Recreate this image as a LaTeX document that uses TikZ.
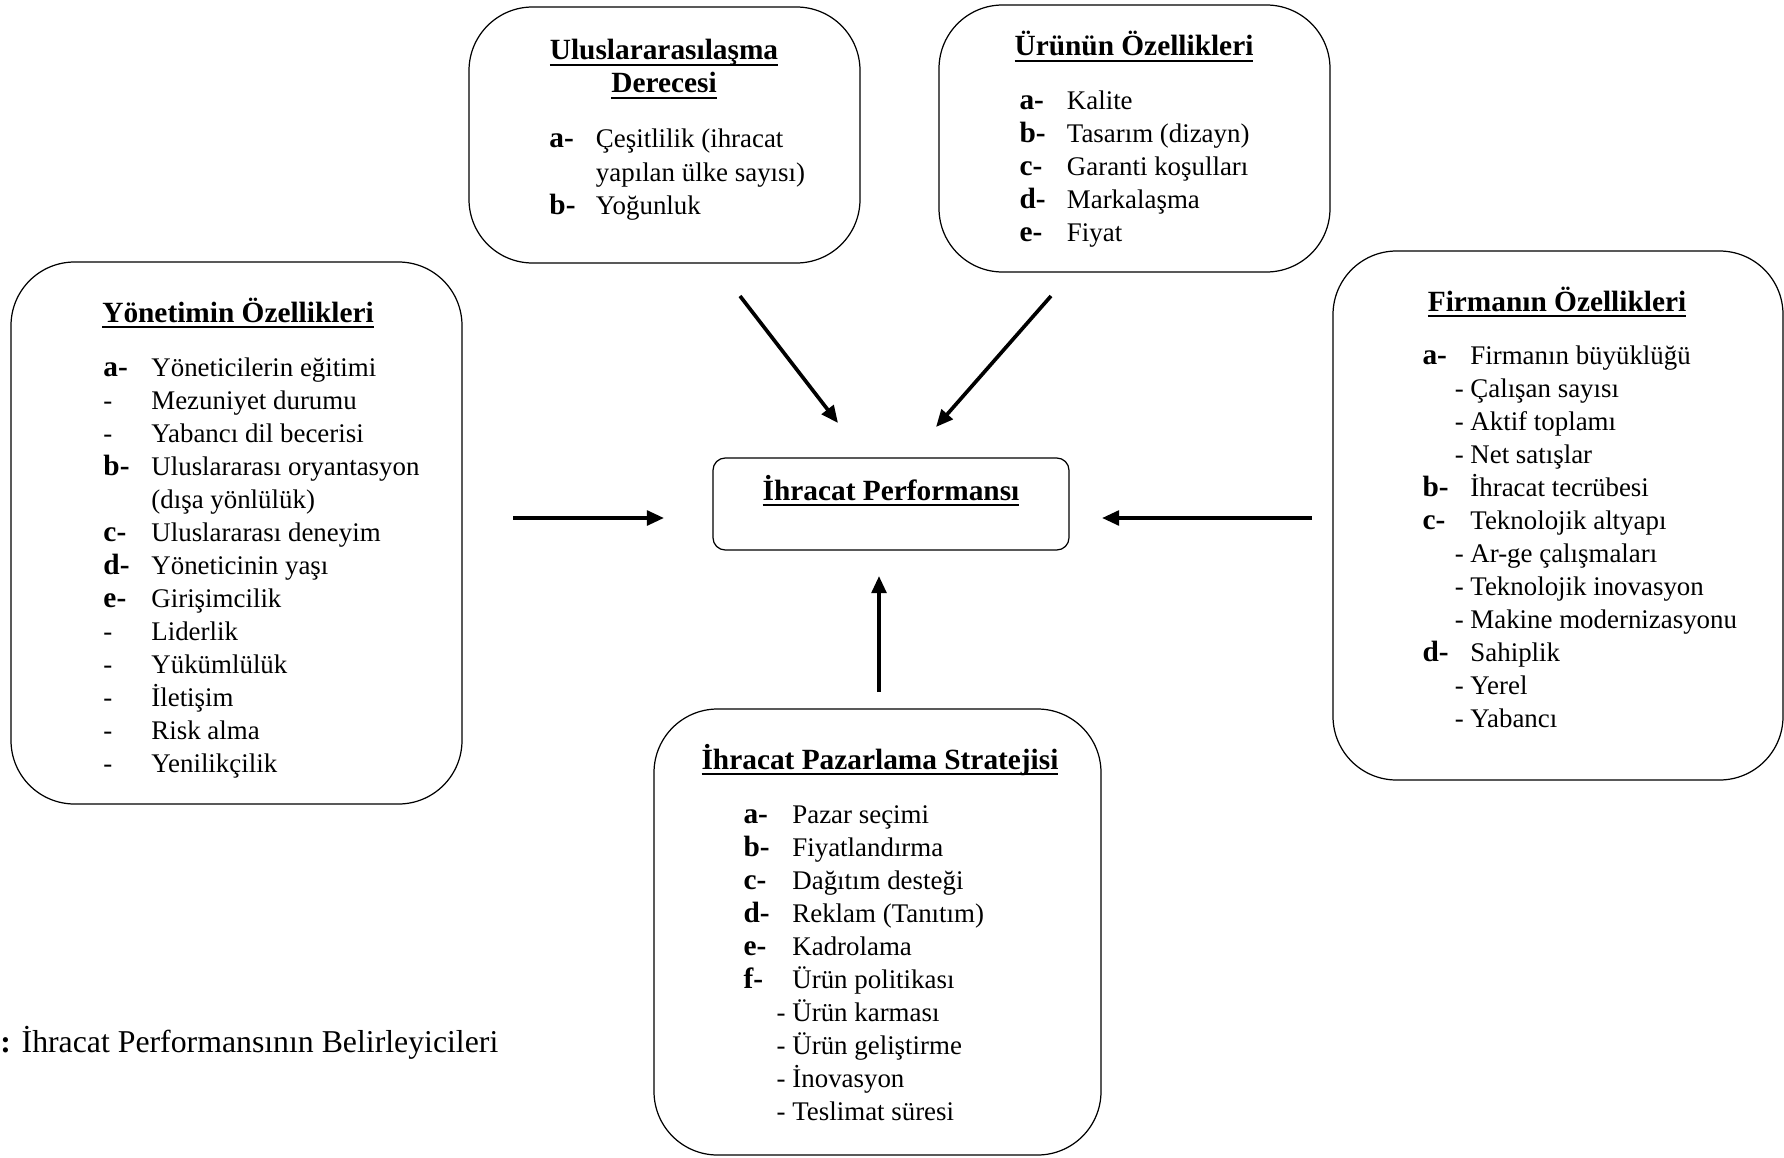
\documentclass[tikz,border=0pt]{standalone}
\usepackage{fontspec}
\setmainfont{Liberation Serif}
\usetikzlibrary{arrows.meta,fit,positioning}
\newcommand{\isaret}[1]{{\fontsize{12}{13.5}\selectfont\bfseries #1-}}
\newcommand{\alt}{\llap{-\ }}
\newsavebox{\cizgikutu}
\newcommand{\cizgi}[1]{\sbox{\cizgikutu}{#1}\rlap{\rule[-2.4pt]{\wd\cizgikutu}{0.8pt}}\usebox{\cizgikutu}}

\begin{document}
\begin{tikzpicture}[x=0.409pt, y=-0.409pt,
        kutu/.style={draw, line width=0.5pt, rounded corners=26pt, inner sep=0pt},
        merkez/.style={draw, line width=0.5pt, rounded corners=5pt, inner sep=0pt},
        baslik/.style={font=\fontsize{12}{13.5}\selectfont\bfseries, inner sep=0pt, anchor=base},
        liste/.style={font=\fontsize{11}{13.5}\selectfont, inner sep=0pt, anchor=base west},
        ok/.style={line width=1.5pt, -{Triangle[length=7pt, width=6pt]}}]
        \useasboundingbox (0,0) rectangle (1784,1157);

        \node[kutu, fit={(469,7) (860,263)}] (ulus) {};
        \node[baslik] (ulusB1) at (664,60) {\cizgi{Uluslararasılaşma}};
        \node[baslik] (ulusB2) at (664,93) {\cizgi{Derecesi}};
        \node[liste] (ulusL) at (549,148) {\begin{tabular}[t]{@{}p{19pt}@{}l@{}}
            \isaret{a} & Çeşitlilik (ihracat\\
                       & yapılan ülke sayısı)\\
            \isaret{b} & Yoğunluk
        \end{tabular}};

        \node[kutu, fit={(939,5) (1330,272)}] (urun) {};
        \node[baslik] (urunB) at (1134,56) {\cizgi{Ürünün Özellikleri}};
        \node[liste] (urunL) at (1019,109) {\begin{tabular}[t]{@{}p{19.4pt}@{}l@{}}
            \isaret{a} & Kalite\\
            \isaret{b} & Tasarım (dizayn)\\
            \isaret{c} & Garanti koşulları\\
            \isaret{d} & Markalaşma\\
            \isaret{e} & Fiyat
        \end{tabular}};

        \node[kutu, fit={(11,262) (462,804)}] (yonetim) {};
        \node[baslik] (yonetimB) at (238,322) {\cizgi{Yönetimin Özellikleri}};
        \node[liste] (yonetimL) at (103,376) {\begin{tabular}[t]{@{}p{19.6pt}@{}l@{}}
            \isaret{a} & Yöneticilerin eğitimi\\
            -          & Mezuniyet durumu\\
            -          & Yabancı dil becerisi\\
            \isaret{b} & Uluslararası oryantasyon\\
                       & (dışa yönlülük)\\
            \isaret{c} & Uluslararası deneyim\\
            \isaret{d} & Yöneticinin yaşı\\
            \isaret{e} & Girişimcilik\\
            -          & Liderlik\\
            -          & Yükümlülük\\
            -          & İletişim\\
            -          & Risk alma\\
            -          & Yenilikçilik
        \end{tabular}};

        \node[kutu, fit={(1333,251) (1783,780)}] (firma) {};
        \node[baslik] (firmaB) at (1557,311) {\cizgi{Firmanın Özellikleri}};
        \node[liste] (firmaL) at (1422,364) {\begin{tabular}[t]{@{}p{19.6pt}@{}l@{}}
            \isaret{a} & Firmanın büyüklüğü\\
                       & \alt Çalışan sayısı\\
                       & \alt Aktif toplamı\\
                       & \alt Net satışlar\\
            \isaret{b} & İhracat tecrübesi\\
            \isaret{c} & Teknolojik altyapı\\
                       & \alt Ar-ge çalışmaları\\
                       & \alt Teknolojik inovasyon\\
                       & \alt Makine modernizasyonu\\
            \isaret{d} & Sahiplik\\
                       & \alt Yerel\\
                       & \alt Yabancı
        \end{tabular}};

        \node[merkez, fit={(713,458) (1069,550)}] (ihracat) {};
        \node[baslik] (ihracatB) at (891,500) {\cizgi{İhracat Performansı}};

        \node[kutu, fit={(654,709) (1101,1155)}] (pazar) {};
        \node[baslik] (pazarB) at (880,769) {\cizgi{İhracat Pazarlama Stratejisi}};
        \node[liste] (pazarL) at (743,823) {\begin{tabular}[t]{@{}p{20pt}@{}l@{}}
            \isaret{a} & Pazar seçimi\\
            \isaret{b} & Fiyatlandırma\\
            \isaret{c} & Dağıtım desteği\\
            \isaret{d} & Reklam (Tanıtım)\\
            \isaret{e} & Kadrolama\\
            \isaret{f} & Ürün politikası\\
                       & \alt Ürün karması\\
                       & \alt Ürün geliştirme\\
                       & \alt İnovasyon\\
                       & \alt Teslimat süresi
        \end{tabular}};

        \node[anchor=base west, inner sep=0pt, font=\fontsize{13}{15}\selectfont] (altyazi) at (0,1052) {\textbf{:} İhracat Performansının Belirleyicileri};

        \coordinate (ulusU) at (740,296);
        \coordinate (ulusI) at (838,423);
        \coordinate (urunU) at (1051,296);
        \coordinate (urunI) at (936,427);
        \coordinate (yonetimU) at (513,518);
        \coordinate (yonetimI) at (664,518);
        \coordinate (firmaU) at (1312,518);
        \coordinate (firmaI) at (1102,518);
        \coordinate (pazarU) at (879,692);
        \coordinate (pazarI) at (879,576);

        \draw[ok] (ulusU) -- (ulusI);
        \draw[ok] (urunU) -- (urunI);
        \draw[ok] (yonetimU) -- (yonetimI);
        \draw[ok] (firmaU) -- (firmaI);
        \draw[ok] (pazarU) -- (pazarI);
\end{tikzpicture}
\end{document}
